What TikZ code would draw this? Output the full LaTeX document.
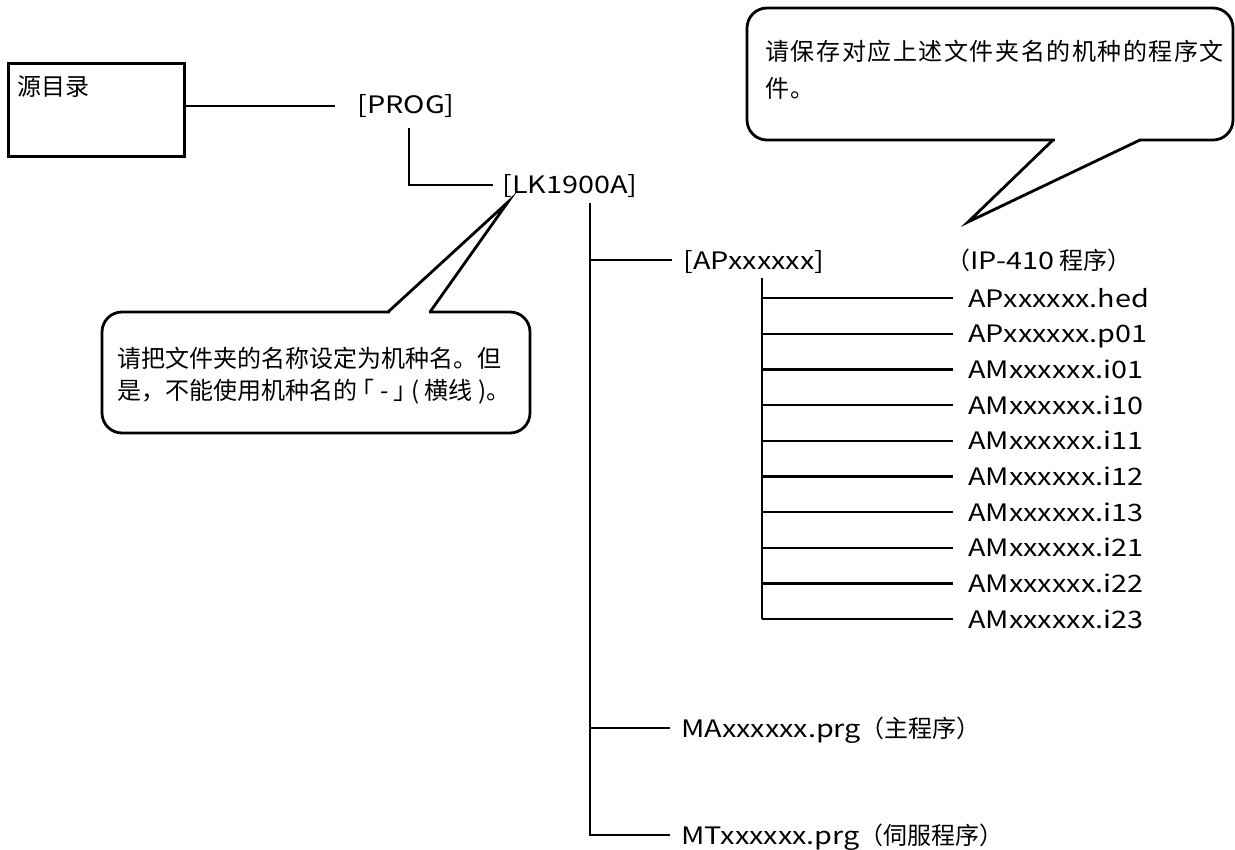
\documentclass[tikz,border=0pt]{standalone}
\usepackage{fontspec}
\setmainfont{Noto Sans CJK SC}
\newfontfamily\latw{Noto Sans CJK SC}[FakeStretch=1.2]
\begin{document}
\begin{tikzpicture}[x=0.5pt,y=-0.5pt,
  lbl/.style={anchor=base west, inner sep=0pt, font=\fontsize{12pt}{14pt}\selectfont},
  conn/.style={line width=1.15pt},
  callbox/.style={line width=1.4pt, rounded corners=10pt, fill=white},
  callptr/.style={line width=1.4pt, line join=miter}]
\useasboundingbox (0,0) rectangle (1235,850);

% source box
\node[draw, line width=1.3pt, anchor=north west, minimum width=88pt, minimum height=46.5pt, inner sep=0pt] (src) at (7,62) {};
\node[lbl] (srct) at (17,96) {源目录};

% labels
\node[lbl] (prog) at (357,114) {\latw [PROG]};
\node[lbl] (lk) at (502,194) {\latw [LK1900A]};
\node[lbl] (ap) at (683,269) {\latw [APxxxxxx]};
\node[lbl] (ip) at (946,269) {（{\latw IP-410} 程序）};
\node[lbl] (ma) at (681,737) {{\latw MAxxxxxx.prg}（主程序）};
\node[lbl] (mt) at (681,844) {{\latw MTxxxxxx.prg}（伺服程序）};

% coordinates
\coordinate (p0) at (335,106);
\coordinate (pv) at (409,128);
\coordinate (pc) at (409,185);
\coordinate (lkin) at (493,185);
\coordinate (lv) at (590,203);
\coordinate (apin) at (672,260);
\coordinate (main) at (670,728);
\coordinate (mtin) at (670,835);
\coordinate (apv) at (762,278);

\draw[conn] (src.east |- p0) -- (p0);
\draw[conn] (pv) -- (pc) -- (lkin);
\draw[conn] (lv) -- (lv |- mtin) -- (mtin);
\draw[conn] (lv |- apin) -- (apin);
\draw[conn] (lv |- main) -- (main);

\foreach \t [count=\k from 0] in {APxxxxxx.hed,APxxxxxx.p01,AMxxxxxx.i01,AMxxxxxx.i10,AMxxxxxx.i11,AMxxxxxx.i12,AMxxxxxx.i13,AMxxxxxx.i21,AMxxxxxx.i22,AMxxxxxx.i23}{
  \pgfmathsetmacro\yy{298+35.7*\k}
  \coordinate (b\k) at (762,\yy);
  \coordinate (e\k) at (953,\yy);
  \node[lbl] (f\k) at (968,\yy+9) {\latw \t};
  \draw[conn] (b\k) -- (e\k);
}
\draw[conn] (apv) -- (b9);

% bottom callout
\draw[callbox] (102,312) rectangle (530,433);
\fill[white] (389.5,308) rectangle (428.5,316);
\coordinate (tipA) at (508,202);
\draw[callptr] (388,312) -- (tipA) -- (430,312);
\node[lbl] (ca1) at (117,367) {请把文件夹的名称设定为机种名。但};
\node[lbl] (ca2) at (117,399) {是，不能使用机种名的 ｢ - ｣ ( 横线 )。};

% top callout
\draw[callbox] (747,8) rectangle (1233,140);
\fill[white] (1054.5,136) rectangle (1138.5,144);
\coordinate (tipB) at (968,222);
\draw[callptr] (1053,140) -- (tipB) -- (1140,140);
\node[lbl, font=\fontsize{12pt}{14pt}\selectfont\addfontfeature{LetterSpace=6.5}] (cb1) at (765,61) {请保存对应上述文件夹名的机种的程序文};
\node[lbl, font=\fontsize{12pt}{14pt}\selectfont\addfontfeature{LetterSpace=6.5}] (cb2) at (765,98) {件。};
\end{tikzpicture}
\end{document}
